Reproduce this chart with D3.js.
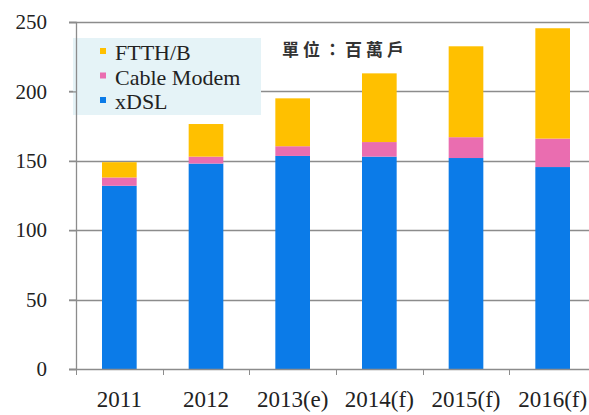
<!DOCTYPE html>
<html>
<head>
<meta charset="utf-8">
<script src="https://cdn.jsdelivr.net/npm/d3@7"></script>
<style>
  body { margin: 0; background: #fff; }
  svg { display: block; }
  .serif { font-family: "Liberation Serif", "Times New Roman", "DejaVu Serif", serif; }
</style>
</head>
<body>
<div id="svgContainer"><svg></svg></div>
<script>
// 数据
const years = ["2011", "2012", "2013(e)", "2014(f)", "2015(f)", "2016(f)"];
const xdsl = [132, 148, 153.5, 153, 152, 145.5];
const cable = [6, 5, 7, 10.5, 15, 20.5];
const ftth = [11, 23.5, 34.5, 49.5, 65.5, 79.5];
const keys = ["xDSL", "Cable Modem", "FTTH/B"];
const legendOrder = ["FTTH/B", "Cable Modem", "xDSL"];
const yTicks = [0, 50, 100, 150, 200, 250];

const width = 589, height = 415;
const marginTop = 22, marginRight = -7, marginBottom = 46, marginLeft = 76;

const rows = years.map((y, i) => ({ year: y, "xDSL": xdsl[i], "Cable Modem": cable[i], "FTTH/B": ftth[i] }));
const series = d3.stack().keys(keys)(rows);

const x = d3.scaleBand()
    .domain(years)
    .range([marginLeft, width - marginRight])
    .paddingInner(0.6).paddingOuter(0.3);

const y = d3.scaleLinear()
    .domain([0, 250])
    .range([height - marginBottom, marginTop]);

const color = d3.scaleOrdinal()
    .domain(keys)
    .range(["#0b7be8", "#ea6db0", "#ffc000"]);

const svg = d3.select("#svgContainer").select("svg")
    .attr("width", width)
    .attr("height", height);

// 网格线
svg.append("g")
  .selectAll("line")
  .data(yTicks.slice(1))
  .join("line")
    .attr("x1", marginLeft - 7)
    .attr("x2", width)
    .attr("y1", d => Math.round(y(d)) + 0.5)
    .attr("y2", d => Math.round(y(d)) + 0.5)
    .attr("stroke", "#8c8c8c")
    .attr("stroke-width", 1.3);

// 图例背景
const legend = svg.append("g");
legend.append("rect")
    .attr("x", 73).attr("y", 38)
    .attr("width", 188).attr("height", 77)
    .attr("fill", "#e5f3f7");

// 柱子
svg.append("g")
  .selectAll("g")
  .data(series)
  .join("g")
    .attr("fill", d => color(d.key))
  .selectAll("rect")
  .data(d => d)
  .join("rect")
    .attr("x", d => x(d.data.year))
    .attr("y", d => y(d[1]))
    .attr("height", d => y(d[0]) - y(d[1]))
    .attr("width", x.bandwidth());

// Y轴
svg.append("g")
    .attr("transform", `translate(${marginLeft},0)`)
    .call(d3.axisLeft(y).tickValues(yTicks).tickSize(7).tickPadding(22))
    .call(g => g.attr("font-family", null))
    .call(g => g.select(".domain").attr("stroke", "#8c8c8c").attr("stroke-width", 1.3))
    .call(g => g.selectAll(".tick line").attr("stroke", "#8c8c8c").attr("stroke-width", 1.3))
    .call(g => g.selectAll(".tick text")
        .attr("class", "serif")
        .attr("font-size", 21)
        .attr("fill", "#222"));

// X轴
const gap = (x.step() - x.bandwidth()) / 2;
svg.append("g")
    .attr("transform", `translate(0,${height - marginBottom})`)
    .call(d3.axisBottom(x).tickSize(0).tickPadding(22))
    .call(g => g.attr("font-family", null))
    .call(g => g.select(".domain").attr("d", `M${marginLeft - 7},0.5H${width}`)
        .attr("stroke", "#8c8c8c").attr("stroke-width", 1.3))
    .call(g => g.selectAll(".tick text")
        .attr("class", "serif")
        .attr("font-size", 23)
        .attr("fill", "#222"))
    .call(g => g.selectAll(".sep")
        .data(years)
        .join("line")
        .attr("class", "sep")
        .attr("x1", d => Math.round(x(d) - gap) + 0.5)
        .attr("x2", d => Math.round(x(d) - gap) + 0.5)
        .attr("y1", 0).attr("y2", 6)
        .attr("stroke", "#8c8c8c"));

// 图例项
legendOrder.forEach((k, i) => {
  const item = legend.append("g").attr("transform", `translate(100,${60 + i * 24.5})`);
  item.append("rect")
      .attr("x", 0).attr("y", -12)
      .attr("width", 6).attr("height", 6)
      .attr("fill", color(k));
  item.append("text")
      .attr("class", "serif")
      .attr("x", 15).attr("y", 0)
      .attr("font-size", 22)
      .attr("fill", "#222")
      .text(k);
});

// 单位
svg.append("text")
    .attr("x", 282).attr("y", 56)
    .attr("font-family", "'Noto Sans CJK TC', sans-serif")
    .attr("font-size", 17)
    .attr("font-weight", "bold")
    .attr("letter-spacing", 4)
    .attr("fill", "#333")
    .text("單位：百萬戶");
</script>
</body>
</html>
